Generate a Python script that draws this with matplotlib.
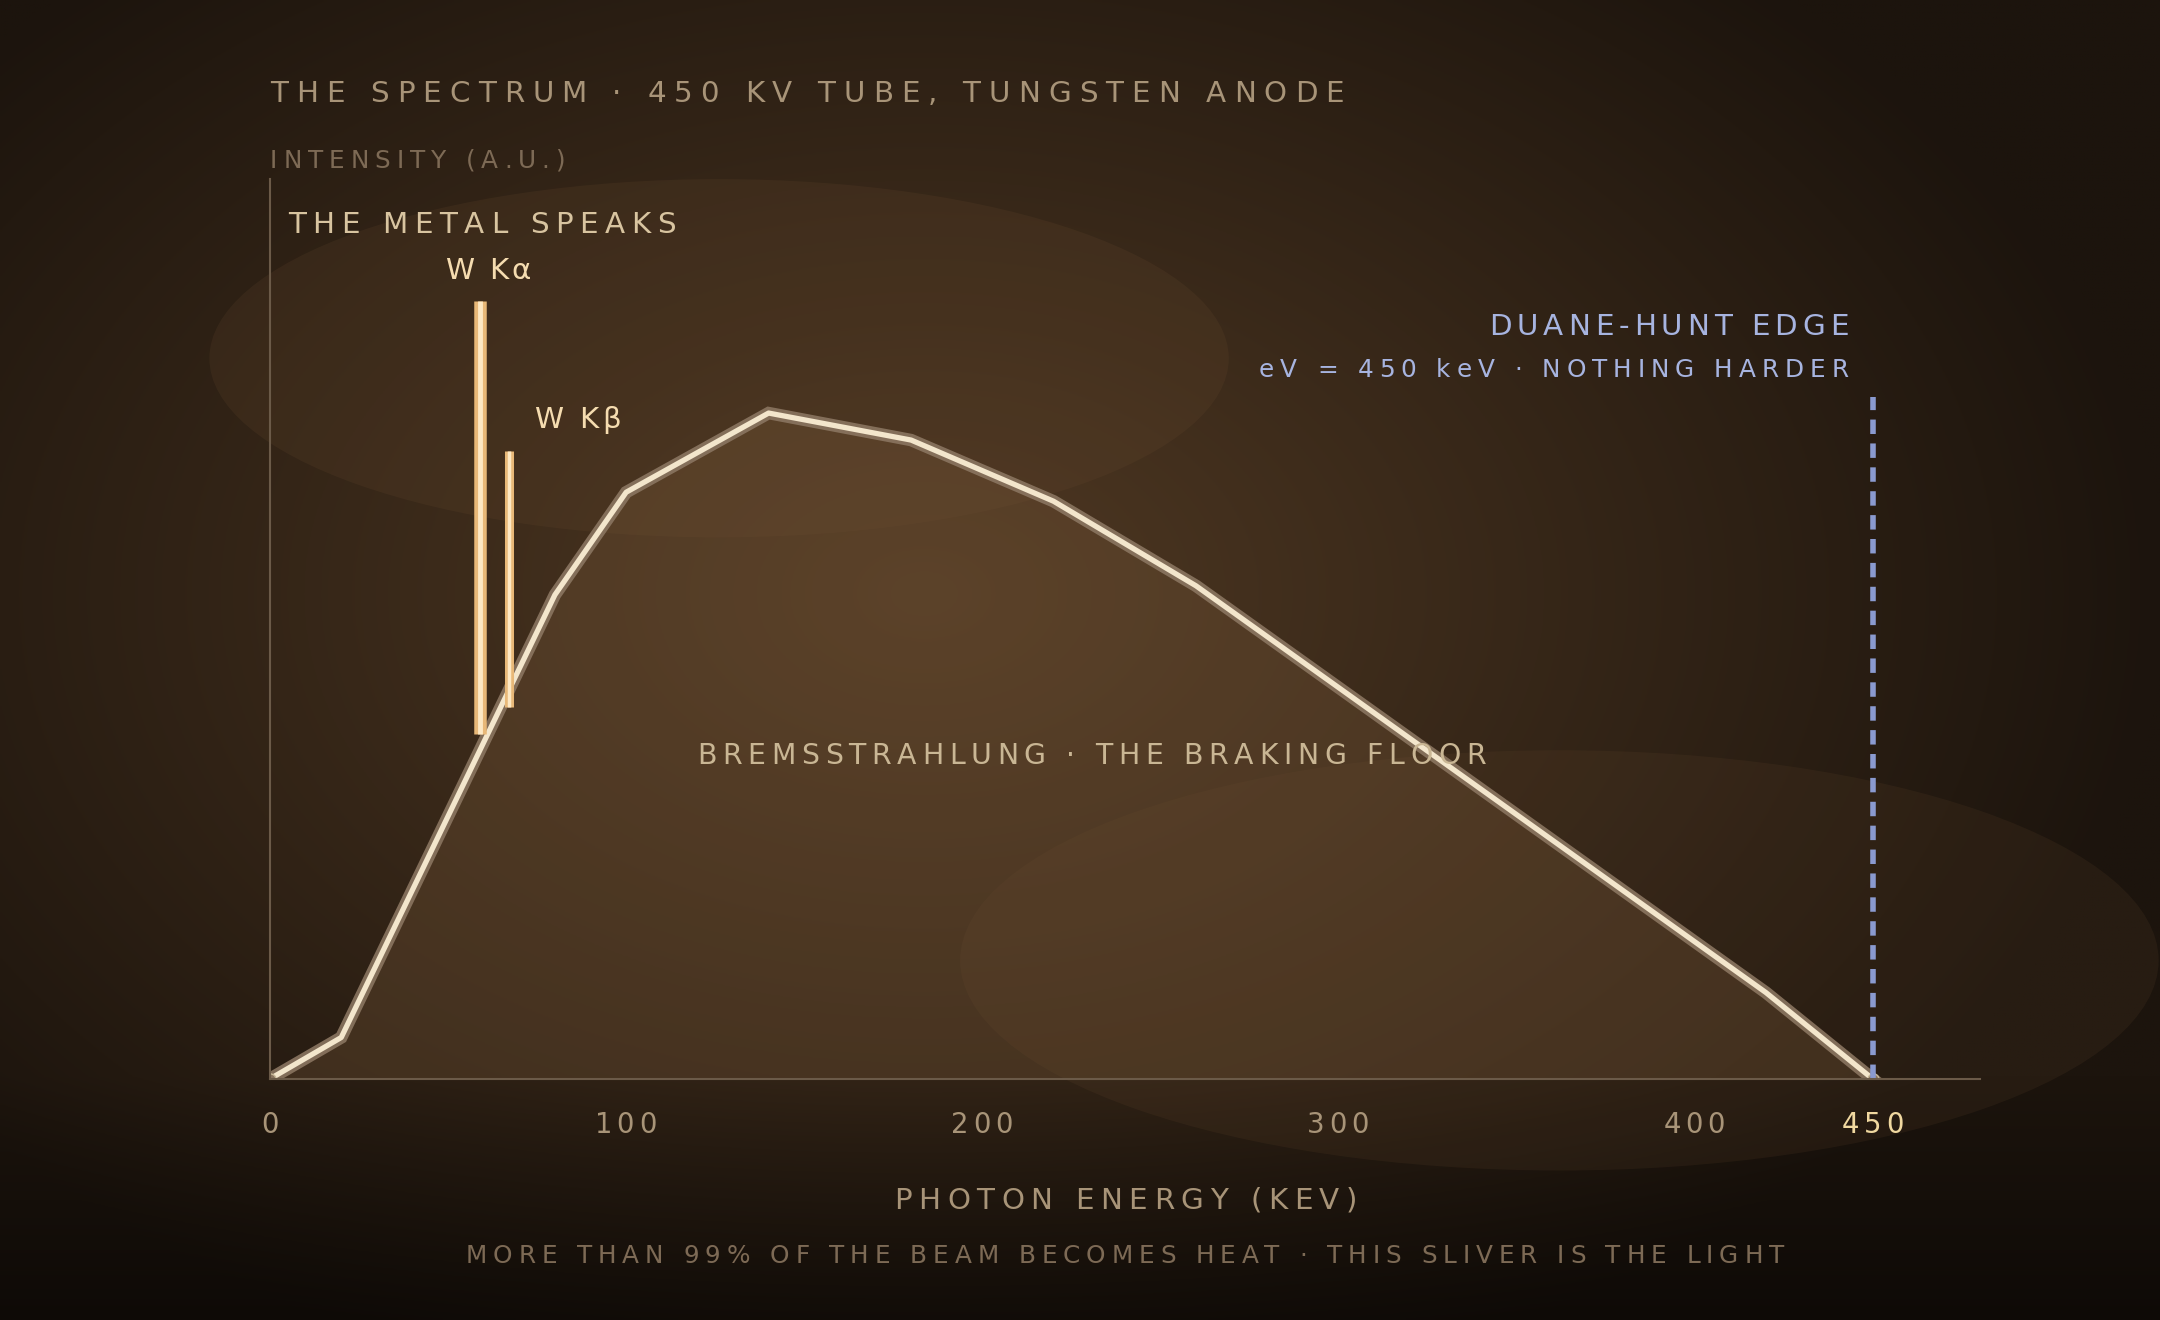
import numpy as np
import matplotlib
matplotlib.use("Agg")
import matplotlib.pyplot as plt
from matplotlib.patches import Ellipse
from matplotlib.textpath import TextPath
from matplotlib.font_manager import FontProperties

energy = [0, 20, 80, 100, 140, 180, 220, 260, 420, 450]
intensity = [0, 4.6, 53.8, 65.2, 74.0, 71.0, 64.2, 54.8, 9.6, 0]
ka_energy, ka_top, ka_bottom = 59, 86.5, 38.3
kb_energy, kb_top, kb_bottom = 67, 69.8, 41.3
edge_energy, edge_top = 450, 75.8
xticks = [0, 100, 200, 300, 400, 450]

W, H = 1568, 958
S = 2160 / W
F = 1.32
fig = plt.figure(figsize=(21.6, 13.2), dpi=100)

bg = fig.add_axes([0, 0, 1, 1])
yy, xx = np.mgrid[0:H:2, 0:W:2]
d = np.sqrt(((xx - 670) / 900) ** 2 + ((yy - 430) / 600) ** 2)
t = np.clip(d, 0, 1)
c0 = np.array([0x50, 0x39, 0x23]) / 255
c1 = np.array([0x1c, 0x14, 0x0d]) / 255
img = c0[None, None, :] * (1 - t[..., None]) + c1[None, None, :] * t[..., None]
dark = np.clip((yy - 780) / 180, 0, 1)[..., None]
img = img * (1 - 0.5 * dark)
bg.imshow(img, extent=[0, W, H, 0], aspect="auto")
bg.add_patch(Ellipse((522, 260), 740, 260, color="#6a4c30", alpha=0.18, lw=0))
bg.add_patch(Ellipse((1132, 697), 870, 305, color="#6a4c30", alpha=0.15, lw=0))
bg.set_xlim(0, W); bg.set_ylim(H, 0); bg.axis("off")

ax = fig.add_axes([196 / W, 1 - 783 / H, (1437 - 196) / W, (783 - 130) / H])
ax.patch.set_alpha(0)
ax.set_xlim(0, 480); ax.set_ylim(0, 100)
for s in ["top", "right"]:
    ax.spines[s].set_visible(False)
for s in ["left", "bottom"]:
    ax.spines[s].set_color("#6b5a48"); ax.spines[s].set_linewidth(1.5)
ax.set_yticks([])
ax.set_xticks(xticks)
ax.set_xticklabels([])
ax.tick_params(axis="x", length=0)

ax.fill_between(energy, intensity, color="#7a5a3a", alpha=0.3, lw=0)
ax.plot(energy, intensity, color="#8a7560", lw=9, solid_joinstyle="miter", alpha=0.9)
ax.plot(energy, intensity, color="#f3e6cc", lw=3.8)
ax.plot([0, 450], [0, 0], "o", ms=8, color="#8a7560", mec="#c8b898", mew=1)

ax.plot([ka_energy] * 2, [ka_bottom, ka_top], color="#e8b878", lw=9, solid_capstyle="butt")
ax.plot([ka_energy] * 2, [ka_bottom, ka_top], color="#fde8c4", lw=3.5, solid_capstyle="butt")
ax.plot([kb_energy] * 2, [kb_bottom, kb_top], color="#e8b878", lw=6.5, solid_capstyle="butt")
ax.plot([kb_energy] * 2, [kb_bottom, kb_top], color="#fde8c4", lw=2.5, solid_capstyle="butt")
ax.plot([edge_energy] * 2, [0, edge_top], color="#8a9ad0", lw=4, ls=(0, (2.6, 1.7)))

fp = FontProperties(family="DejaVu Sans")

def charw(c, size):
    if c == " ":
        tp = TextPath((0, 0), "a a", size=size, prop=fp)
        tp2 = TextPath((0, 0), "aa", size=size, prop=fp)
        return (tp.get_extents().width - tp2.get_extents().width) * 100 / 72
    tp = TextPath((0, 0), "|" + c + "|", size=size, prop=fp)
    tp2 = TextPath((0, 0), "||", size=size, prop=fp)
    return (tp.get_extents().width - tp2.get_extents().width) * 100 / 72

def spaced(x0, x1, y, s, size, color):
    size = size * F
    ws = [charw(c, size) for c in s]
    target = (x1 - x0) * S - ws[-1] * 0.1
    gap = (target - sum(ws)) / max(len(s) - 1, 1)
    x = x0 * S
    for c, w in zip(s, ws):
        fig.text(x / 2160, 1 - (y + 1.5) / H, c, fontsize=size, color=color, va="center",
                 ha="left", family="DejaVu Sans")
        x += w + gap

spaced(196, 977, 67, "THE SPECTRUM · 450 KV TUBE, TUNGSTEN ANODE", 16, "#a89478")
spaced(196, 411, 115, "INTENSITY (A.U.)", 13.5, "#7d6a55")
spaced(209, 492, 162, "THE METAL SPEAKS", 16, "#d8c4a0")
spaced(323, 387, 195, "W Kα", 16, "#f5dcb0")
spaced(388, 452, 303, "W Kβ", 16, "#f5dcb0")
spaced(1081, 1343, 236, "DUANE-HUNT EDGE", 16, "#a7b4e0")
spaced(914, 1343, 267, "eV = 450 keV · NOTHING HARDER", 13.5, "#a7b4e0")
spaced(506, 1080, 547, "BREMSSTRAHLUNG · THE BRAKING FLOOR", 15.5, "#c9b694")
spaced(649, 986, 870, "PHOTON ENERGY (KEV)", 16, "#a89478")
spaced(338, 1296, 910, "MORE THAN 99% OF THE BEAM BECOMES HEAT · THIS SLIVER IS THE LIGHT", 13.5, "#7d6a55")

tick_w = {1: 13, 3: 46}
for v in xticks:
    lab = str(v)
    px = 196 + v * (1360 - 196) / 450
    wdt = tick_w[len(lab)]
    spaced(px - wdt / 2, px + wdt / 2, 815, lab, 15,
           "#f0d8a0" if v == 450 else "#a89478")

fig.savefig("out.png", dpi=100)
